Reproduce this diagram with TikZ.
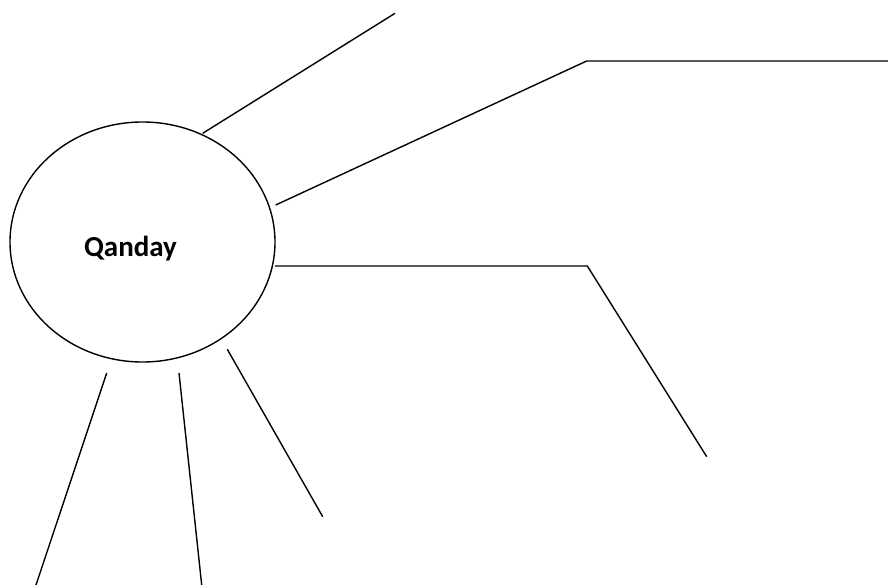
\documentclass[tikz,border=0pt]{standalone}
\usepackage{fontspec}
\setmainfont{Carlito}
\usetikzlibrary{shapes.geometric}
\newcommand{\hubfont}{\fontsize{29}{34}\selectfont\bfseries}
\tikzset{
  hub/.style={ellipse,draw,line width=1.4pt,inner sep=0pt,
    minimum width=265pt,minimum height=240pt},
  spoke/.style={line width=1.4pt,line join=miter}
}

\begin{document}
\begin{tikzpicture}[x=1pt,y=-1pt]
  \useasboundingbox (0,0) rectangle (888,585);

  \node[hub] (hub) at (142.5,242) {};
  \node[anchor=base,inner sep=0pt] (hublabel) at (130.5,256) {\hubfont Qanday};

  % spoke ends
  \coordinate (a0) at (202.7,133.3);
  \coordinate (a1) at (395,13.3);
  \coordinate (b0) at (275.7,205);
  \coordinate (b1) at (586.7,61);
  \coordinate (b2) at (888,61);
  \coordinate (c0) at (275,266);
  \coordinate (c1) at (587.3,266);
  \coordinate (c2) at (706.7,456.7);
  \coordinate (d0) at (227.3,349.3);
  \coordinate (d1) at (322.7,516.7);
  \coordinate (e0) at (179,373);
  \coordinate (e1) at (201.7,585);
  \coordinate (f0) at (106.7,373);
  \coordinate (f1) at (36,585);

  \draw[spoke] (a0) -- (a1);
  \draw[spoke] (b0) -- (b1) -- (b2);
  \draw[spoke] (c0) -- (c1) -- (c2);
  \draw[spoke] (d0) -- (d1);
  \draw[spoke] (e0) -- (e1);
  \draw[spoke] (f0) -- (f1);
\end{tikzpicture}
\end{document}
